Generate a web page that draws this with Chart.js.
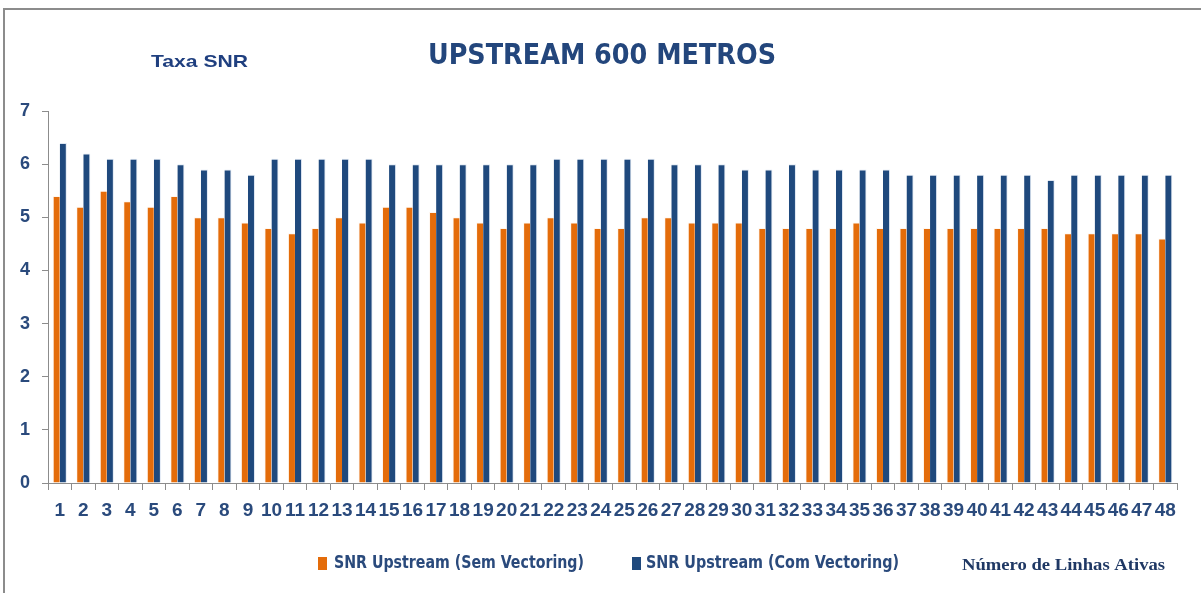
<!DOCTYPE html>
<html>
<head>
<meta charset="utf-8">
<script src="https://cdn.jsdelivr.net/npm/chart.js@4"></script>
<style>
  html, body { margin: 0; padding: 0; background: #fff; overflow: hidden; }
  #wrap { position: relative; width: 1201px; height: 593px; }
  #frame { position: absolute; left: 3px; top: 8px; width: 1300px; height: 700px;
           border-top: 2px solid #8c8c8c; border-left: 2px solid #8c8c8c; }
  #snrChart { position: absolute; left: 0; top: 0; }
</style>
</head>
<body>
<div id="wrap">
  <div id="frame"></div>
  <canvas id="snrChart" width="1201" height="593"></canvas>
</div>
<script>
// ─── Data ─────────────────────────────────────────────────────────────────────
const lines = ['1', '2', '3', '4', '5', '6', '7', '8', '9', '10', '11', '12',
  '13', '14', '15', '16', '17', '18', '19', '20', '21', '22', '23', '24',
  '25', '26', '27', '28', '29', '30', '31', '32', '33', '34', '35', '36',
  '37', '38', '39', '40', '41', '42', '43', '44', '45', '46', '47', '48'];

const semVectoring = [5.4, 5.2, 5.5, 5.3, 5.2, 5.4, 5.0, 5.0, 4.9, 4.8, 4.7, 4.8,
  5.0, 4.9, 5.2, 5.2, 5.1, 5.0, 4.9, 4.8, 4.9, 5.0, 4.9, 4.8,
  4.8, 5.0, 5.0, 4.9, 4.9, 4.9, 4.8, 4.8, 4.8, 4.8, 4.9, 4.8,
  4.8, 4.8, 4.8, 4.8, 4.8, 4.8, 4.8, 4.7, 4.7, 4.7, 4.7, 4.6];

const comVectoring = [6.4, 6.2, 6.1, 6.1, 6.1, 6.0, 5.9, 5.9, 5.8, 6.1, 6.1, 6.1,
  6.1, 6.1, 6.0, 6.0, 6.0, 6.0, 6.0, 6.0, 6.0, 6.1, 6.1, 6.1,
  6.1, 6.1, 6.0, 6.0, 6.0, 5.9, 5.9, 6.0, 5.9, 5.9, 5.9, 5.9,
  5.8, 5.8, 5.8, 5.8, 5.8, 5.8, 5.7, 5.8, 5.8, 5.8, 5.8, 5.8];

const seriesNames = ['SNR Upstream (Sem Vectoring)', 'SNR Upstream (Com Vectoring)'];

const ORANGE = '#E46C0A';
const NAVY = '#1F497D';
const TEXT = '#2A4A7C';
const AXIS = '#8c8c8c';
const NARROW = "'Liberation Sans Narrow', 'DejaVu Sans Condensed', sans-serif";

// draw text squeezed/stretched to an exact width
function fitText(ctx, text, x, y, width, font, color) {
  ctx.save();
  ctx.font = font;
  ctx.fillStyle = color;
  ctx.textBaseline = 'middle';
  ctx.textAlign = 'left';
  const w = ctx.measureText(text).width;
  ctx.translate(x, y);
  ctx.scale(width / w, 1);
  ctx.fillText(text, 0, 0);
  ctx.restore();
}

// ─── Titles, legend and axis caption ──────────────────────────────────────────
const annotations = {
  id: 'annotations',
  afterDraw(chart) {
    const ctx = chart.ctx;
    fitText(ctx, 'UPSTREAM 600 METROS', 428, 57, 348, 'bold 28px ' + NARROW, '#23467C');
    fitText(ctx, 'Taxa SNR', 151, 62, 97, "bold 17px 'Liberation Sans', Arial, sans-serif", '#1F3F7F');

    const ds = chart.data.datasets;
    ctx.save();
    ctx.fillStyle = ds[0].backgroundColor;
    ctx.fillRect(318, 557, 9, 13);
    ctx.fillStyle = ds[1].backgroundColor;
    ctx.fillRect(632, 557, 9, 13);
    ctx.restore();
    fitText(ctx, ds[0].label, 334, 564, 250, 'bold 17px ' + NARROW, TEXT);
    fitText(ctx, ds[1].label, 646, 564, 253, 'bold 17px ' + NARROW, TEXT);

    fitText(ctx, 'Número de Linhas Ativas', 962, 566, 203,
      "bold 16px 'Liberation Serif', 'Times New Roman', serif", '#1F3864');
  },
};

new Chart(document.getElementById('snrChart'), {
  type: 'bar',
  data: {
    labels: lines,
    datasets: [
      { label: seriesNames[0], data: semVectoring, backgroundColor: ORANGE,
        borderColor: 'rgba(255,240,225,0.55)', borderWidth: { left: 1, right: 0, top: 1 } },
      { label: seriesNames[1], data: comVectoring, backgroundColor: NAVY,
        borderColor: 'rgba(200,215,235,0.6)', borderWidth: { left: 0, right: 1, top: 1 } },
    ],
  },
  options: {
    responsive: false,
    animation: false,
    layout: { padding: { top: 111, left: 0, right: 24, bottom: 70 } },
    categoryPercentage: 0.6,
    barPercentage: 1.0,
    plugins: {
      legend: { display: false },
      title: { display: false },
      tooltip: { enabled: false },
    },
    scales: {
      x: {
        afterFit: s => { s.height = 40; },
        grid: { drawOnChartArea: false, drawTicks: true, tickLength: 7, color: AXIS, offset: true },
        border: { display: true, color: AXIS, width: 1 },
        ticks: { color: TEXT, font: { family: "'Liberation Sans', Arial, sans-serif", size: 19, weight: 'bold' },
                 padding: 9, maxRotation: 0, autoSkip: false },
      },
      y: {
        min: 0,
        max: 7,
        afterFit: s => { s.width = 48; },
        grid: { drawOnChartArea: false, drawTicks: true, tickLength: 6, color: AXIS },
        border: { display: true, color: AXIS, width: 1 },
        ticks: { stepSize: 1, color: TEXT, padding: 12,
                 font: { family: "'Liberation Sans', Arial, sans-serif", size: 18, weight: 'bold' } },
      },
    },
  },
  plugins: [annotations],
});
</script>
</body>
</html>
